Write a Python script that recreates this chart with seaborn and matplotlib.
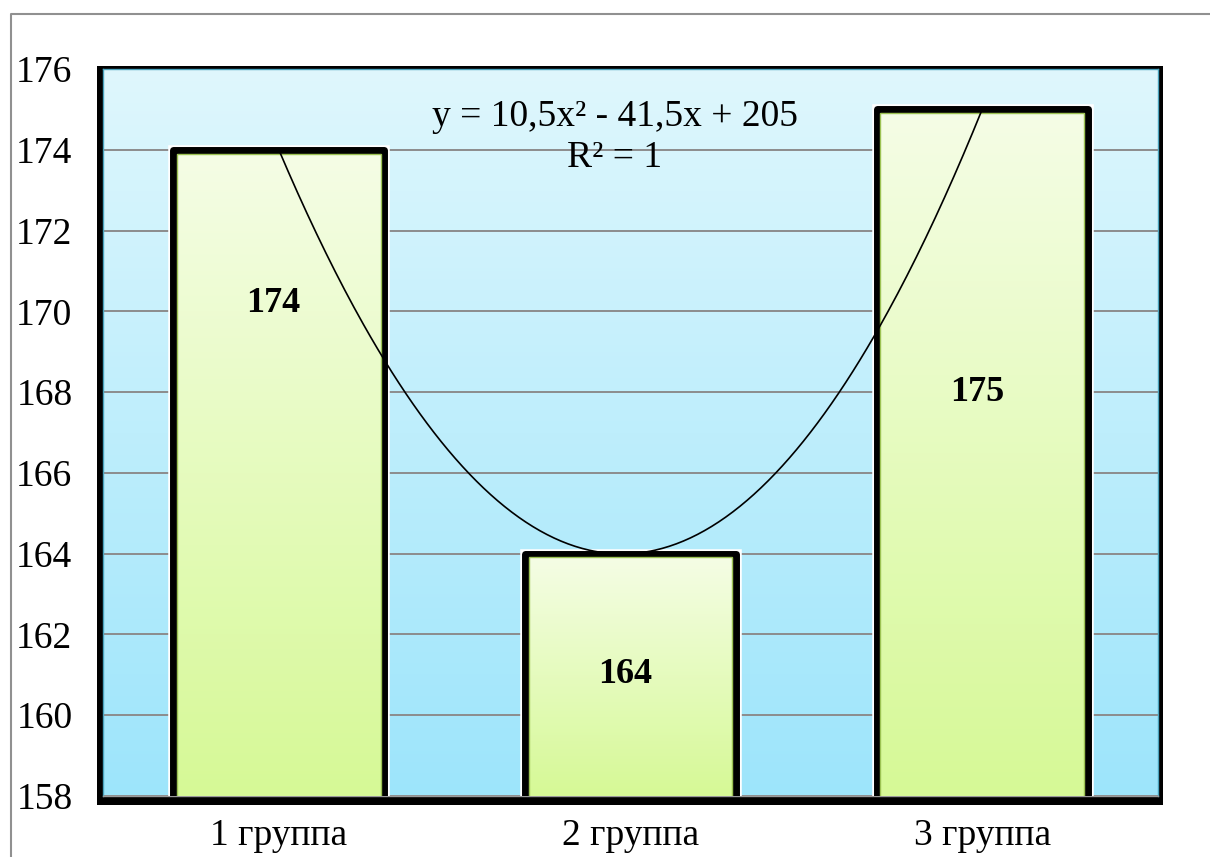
import numpy as np
import pandas as pd
import matplotlib
matplotlib.use("Agg")
import matplotlib.pyplot as plt
import seaborn as sns
from matplotlib.patches import Rectangle
from matplotlib.lines import Line2D
from matplotlib.colors import LinearSegmentedColormap

# ---- data ----
categories = ["1 группа", "2 группа", "3 группа"]
values = [174, 164, 175]
label_levels = [170.2, 161.0, 168.0]   # vertical placement of the value labels
y_ticks = [158, 160, 162, 164, 166, 168, 170, 172, 174, 176]

sns.set_style("white")
plt.rcParams["font.family"] = ["Liberation Serif", "DejaVu Serif"]
plt.rcParams["text.color"] = "black"
plt.rcParams["xtick.color"] = "black"
plt.rcParams["ytick.color"] = "black"

W, H = 1210, 857
fig = plt.figure(figsize=(W / 100, H / 100), dpi=100)


def fx(x):
    return x / W


def fy(y):
    return 1 - y / H


# outer chart border
fig.add_artist(Line2D([fx(11), fx(11), 1.0], [0.0, fy(14), fy(14)],
                      color="#909090", lw=1.5, transform=fig.transFigure))

# dark shadow frame behind the plot area
fig.add_artist(Rectangle((fx(97), fy(805)), fx(1163) - fx(97), fy(66) - fy(805),
                         transform=fig.transFigure, facecolor="black",
                         edgecolor="none", zorder=-1))

ax = fig.add_axes([fx(103), fy(796), fx(1158) - fx(103), fy(69) - fy(796)])

# gradient background of the plot area
grad = np.linspace(0, 1, 256).reshape(-1, 1)
bg_cmap = LinearSegmentedColormap.from_list("bg", ["#9de5fb", "#dff7fd"])
ax.imshow(grad, cmap=bg_cmap, extent=[0, 1, 0, 1], transform=ax.transAxes,
          aspect="auto", origin="lower", zorder=0.1)

df = pd.DataFrame({"group": categories, "value": values})
sns.barplot(data=df, x="group", y="value", ax=ax, width=0.6, color="#e6fbbf")

ax.set_xlim(-0.5, 2.5)
ax.set_ylim(y_ticks[0], y_ticks[-1])

bbox = ax.get_window_extent()
px_x = (2.5 - (-0.5)) / bbox.width
px_y = (y_ticks[-1] - y_ticks[0]) / bbox.height

bar_cmap = LinearSegmentedColormap.from_list("bar", ["#d6f996", "#f5fde6"])
bars = list(ax.patches)
for p, v in zip(bars, values):
    x0, w = p.get_x(), p.get_width()
    p.set_facecolor("none")
    p.set_edgecolor("black")
    p.set_linewidth(5.0)
    p.set_joinstyle("round")
    p.set_zorder(5)
    halo = Rectangle((x0, 0), w, v, facecolor="white", edgecolor="white",
                     lw=7.6, joinstyle="miter", zorder=3)
    ax.add_patch(halo)
    img = ax.imshow(grad, cmap=bar_cmap, extent=[x0, x0 + w, y_ticks[0], v],
                    aspect="auto", origin="lower", zorder=4)
    img.set_clip_path(p)
    ins_x, ins_y = 3.8 * px_x, 3.8 * px_y
    inner = Rectangle((x0 + ins_x, 0), w - 2 * ins_x, v - ins_y,
                      facecolor="none", edgecolor="#9cc253", lw=1.0, zorder=5.5)
    ax.add_patch(inner)

# quadratic trend line through the bar tops
xs = np.arange(1, len(values) + 1)
coef = np.polyfit(xs, values, 2)
xx = np.linspace(xs[0], xs[-1], 300)
ax.plot(xx - 1, np.polyval(coef, xx), color="black", lw=1.2, zorder=6)

fit = np.polyval(coef, xs)
r2 = 1 - np.sum((np.array(values) - fit) ** 2) / np.sum((np.array(values) - np.mean(values)) ** 2)


def fmt(v):
    return f"{v:.4g}".replace(".", ",")


a, b, c = coef
eq = (f"y = {fmt(a)}x\u00b2 {'-' if b < 0 else '+'} {fmt(abs(b))}x "
      f"{'-' if c < 0 else '+'} {fmt(abs(c))}\nR\u00b2 = {fmt(r2)}")
ax.text(0.955, 174.3, eq, ha="center", va="center", multialignment="center",
        fontsize=27, linespacing=1.25, zorder=7)

# value labels
for i, v in enumerate(values):
    ax.text(i - 0.015, label_levels[i], str(v), ha="center", va="center",
            fontsize=26, fontweight="bold", zorder=7)

ax.set_yticks(y_ticks)
ax.yaxis.grid(True, color="#8c8c8c", lw=1.4)
ax.xaxis.grid(False)
ax.set_axisbelow(True)
ax.tick_params(axis="y", length=0, labelsize=27, pad=22)
ax.tick_params(axis="x", length=0, labelsize=27, pad=16)
ax.set_xlabel("")
ax.set_ylabel("")
for s in ("left", "right", "top"):
    ax.spines[s].set_color("#4aa3bd")
    ax.spines[s].set_linewidth(1.0)
ax.spines["bottom"].set_color("#9a9a9a")
ax.spines["bottom"].set_linewidth(1.0)

fig.savefig("out.png", dpi=100, facecolor="white")
